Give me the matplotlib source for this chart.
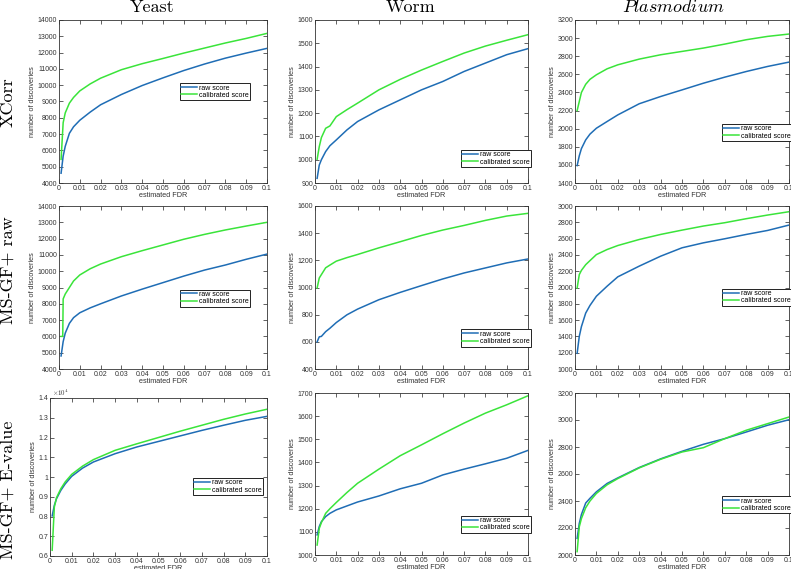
import matplotlib
matplotlib.use("Agg")
import matplotlib.pyplot as plt
import numpy as np

plt.rcParams['font.family'] = ['Liberation Sans', 'DejaVu Sans']
plt.rcParams['mathtext.fontset'] = 'cm'

# ---------------- data ----------------
fdr = [0.001, 0.002, 0.003, 0.005, 0.007, 0.01, 0.015, 0.02, 0.03, 0.04,
       0.05, 0.06, 0.07, 0.08, 0.09, 0.1]

columns = ["Yeast", "Worm", "Plasmodium"]
rows = ["XCorr", "MS-GF+ raw", "MS-GF+ E-value"]

# row 1: XCorr
yeast_xcorr_raw = [4600, 5650, 6250, 7050, 7450, 7850, 8350, 8800, 9430, 9980,
                   10450, 10900, 11300, 11660, 11970, 12260]
yeast_xcorr_cal = [5450, 7700, 8300, 8900, 9250, 9650, 10080, 10430, 10950, 11320,
                   11640, 11970, 12280, 12590, 12870, 13180]
worm_xcorr_raw = [920, 977, 1000, 1035, 1060, 1085, 1128, 1164, 1214, 1257,
                  1300, 1336, 1379, 1415, 1451, 1477]
worm_xcorr_cal = [1002, 1056, 1095, 1135, 1145, 1185, 1215, 1243, 1300, 1345,
                  1385, 1422, 1458, 1488, 1513, 1537]
plas_xcorr_raw = [1592, 1700, 1780, 1876, 1940, 2005, 2079, 2152, 2275, 2355,
                  2428, 2502, 2569, 2631, 2687, 2735]
plas_xcorr_cal = [2200, 2300, 2400, 2490, 2545, 2595, 2661, 2705, 2768, 2816,
                  2853, 2890, 2934, 2982, 3019, 3045]

# row 2: MS-GF+ raw
yeast_msraw_raw = [4800, 5680, 6200, 6800, 7150, 7450, 7750, 8000, 8480, 8900,
                   9300, 9700, 10070, 10380, 10730, 11050]
yeast_msraw_cal_fdr = [0.001, 0.0018, 0.002, 0.003, 0.005, 0.007, 0.01, 0.015, 0.02,
                       0.03, 0.04, 0.05, 0.06, 0.07, 0.08, 0.09, 0.1]
yeast_msraw_cal = [6000, 6000, 8300, 8600, 9000, 9400, 9770, 10150, 10440, 10890,
                   11260, 11610, 11960, 12260, 12530, 12770, 13000]
worm_msraw_raw = [600, 637, 640, 675, 700, 742, 799, 841, 910, 964,
                  1014, 1063, 1107, 1144, 1181, 1210]
worm_msraw_cal = [997, 1070, 1095, 1145, 1165, 1194, 1220, 1243, 1292, 1337,
                  1383, 1423, 1457, 1494, 1526, 1546]
plas_msraw_raw = [1193, 1400, 1520, 1686, 1780, 1893, 2016, 2131, 2262, 2384,
                  2487, 2548, 2598, 2651, 2700, 2766]
plas_msraw_cal = [1994, 2158, 2210, 2280, 2330, 2404, 2466, 2515, 2589, 2651,
                  2704, 2754, 2795, 2844, 2889, 2930]

# row 3: MS-GF+ E-value
yeast_evalue_raw = [8030, 8565, 8900, 9325, 9650, 10034, 10450, 10760, 11180, 11520,
                    11800, 12080, 12360, 12620, 12870, 13070]
yeast_evalue_cal = [6290, 8480, 8950, 9410, 9750, 10135, 10550, 10880, 11350, 11680,
                    12000, 12320, 12620, 12920, 13190, 13430]
worm_evalue_raw = [1087, 1123, 1144, 1166, 1180, 1195, 1212, 1229, 1255, 1286,
                   1310, 1346, 1371, 1394, 1418, 1452]
worm_evalue_cal = [1043, 1115, 1140, 1180, 1200, 1227, 1270, 1310, 1371, 1429,
                   1476, 1524, 1570, 1613, 1649, 1688]
plas_evalue_raw = [2123, 2234, 2300, 2385, 2420, 2468, 2530, 2571, 2648, 2712,
                   2768, 2820, 2862, 2911, 2961, 3002]
plas_evalue_cal = [2025, 2209, 2270, 2350, 2400, 2456, 2520, 2566, 2645, 2709,
                   2763, 2795, 2862, 2924, 2973, 3022]

xticks = [0, 0.01, 0.02, 0.03, 0.04, 0.05, 0.06, 0.07, 0.08, 0.09, 0.1]
xticklabels = ["0", "0.01", "0.02", "0.03", "0.04", "0.05", "0.06", "0.07",
               "0.08", "0.09", "0.1"]

# ---------------- layout (pixels) ----------------
W, H = 791, 569
BLUE = '#1f6db5'
GREEN = '#3ae43a'

fig = plt.figure(figsize=(W / 100, H / 100), dpi=100)


def add_ax(l, r, t, b):
    return fig.add_axes([l / W, 1 - b / H, (r - l) / W, (b - t) / H])


panels = [
    (59, 267, 20, 183, yeast_xcorr_raw, (fdr, yeast_xcorr_cal), (4000, 14000), 1000, (0.75, 0.56)),
    (315, 528, 20, 183, worm_xcorr_raw, (fdr, worm_xcorr_cal), (900, 1600), 100, (0.85, 0.15)),
    (575, 789, 20, 183, plas_xcorr_raw, (fdr, plas_xcorr_cal), (1400, 3200), 200, (0.85, 0.31)),
    (59, 267, 206, 369, yeast_msraw_raw, (yeast_msraw_cal_fdr, yeast_msraw_cal), (4000, 14000), 1000, (0.75, 0.435)),
    (315, 528, 206, 369, worm_msraw_raw, (fdr, worm_msraw_cal), (400, 1600), 200, (0.85, 0.19)),
    (575, 789, 206, 369, plas_msraw_raw, (fdr, plas_msraw_cal), (1000, 3000), 200, (0.85, 0.44)),
    (50, 267, 398, 556, yeast_evalue_raw, (fdr, yeast_evalue_cal), (6000, 14000), 1000, (0.82, 0.44)),
    (315, 528, 393, 555, worm_evalue_raw, (fdr, worm_evalue_cal), (1000, 1700), 100, (0.85, 0.19)),
    (575, 789, 393, 555, plas_evalue_raw, (fdr, plas_evalue_cal), (2000, 3200), 200, (0.85, 0.31)),
]

for i, (l, r, t, b, raw, (cx, cal), ylim, ystep, legc) in enumerate(panels):
    ax = add_ax(l, r, t, b)
    ax.plot(fdr, raw, color=BLUE, lw=1.1, label='raw score')
    ax.plot(cx, cal, color=GREEN, lw=1.1, label='calibrated score')
    ax.set_xlim(0, 0.1)
    ax.set_ylim(*ylim)
    ax.set_xticks(xticks)
    ax.set_xticklabels(xticklabels)
    yt = np.arange(ylim[0], ylim[1] + 1, ystep)
    ax.set_yticks(yt)
    if i == 6:
        ax.set_yticklabels(["%g" % (v / 1e4) for v in yt])
        ax.text(0.01, 1.0, r'$\times10^4$', transform=ax.transAxes,
                fontsize=5, va='bottom', ha='left', color='#333333')
    else:
        ax.set_yticklabels(["%d" % v for v in yt])
    ax.tick_params(direction='in', top=True, right=True, length=3, width=0.5,
                   labelsize=5, pad=1.2, colors='#222222', labelcolor='#333333')
    for s in ax.spines.values():
        s.set_linewidth(0.6)
        s.set_color('#333333')
    ax.set_xlabel('estimated FDR', fontsize=5.2, labelpad=0, color='#333333')
    ax.set_ylabel('number of discoveries', fontsize=5.2, labelpad=1, color='#333333')
    leg = ax.legend(loc='center', bbox_to_anchor=legc, fontsize=5,
                    frameon=True, fancybox=False, edgecolor='#222222',
                    framealpha=1, borderpad=0.2, labelspacing=0.05,
                    handlelength=2.2, handletextpad=0.3, borderaxespad=0)
    leg.get_frame().set_linewidth(0.7)

# column titles
fig.text(152 / W, 1 - 12.5 / H, 'Yeast', fontsize=13, family='cmr10',
         ha='center', va='baseline')
fig.text(411 / W, 1 - 12.5 / H, 'Worm', fontsize=13, family='cmr10',
         ha='center', va='baseline')
fig.text(673 / W, 1 - 12.5 / H, r'$Plasmodium$', fontsize=13,
         ha='center', va='baseline')

# row labels
for txt, yc in zip(rows, [102, 270, 490]):
    fig.text(8 / W, 1 - yc / H, txt, fontsize=13, family='cmr10',
             rotation=90, ha='center', va='center')

fig.savefig('out.png', dpi=100)
